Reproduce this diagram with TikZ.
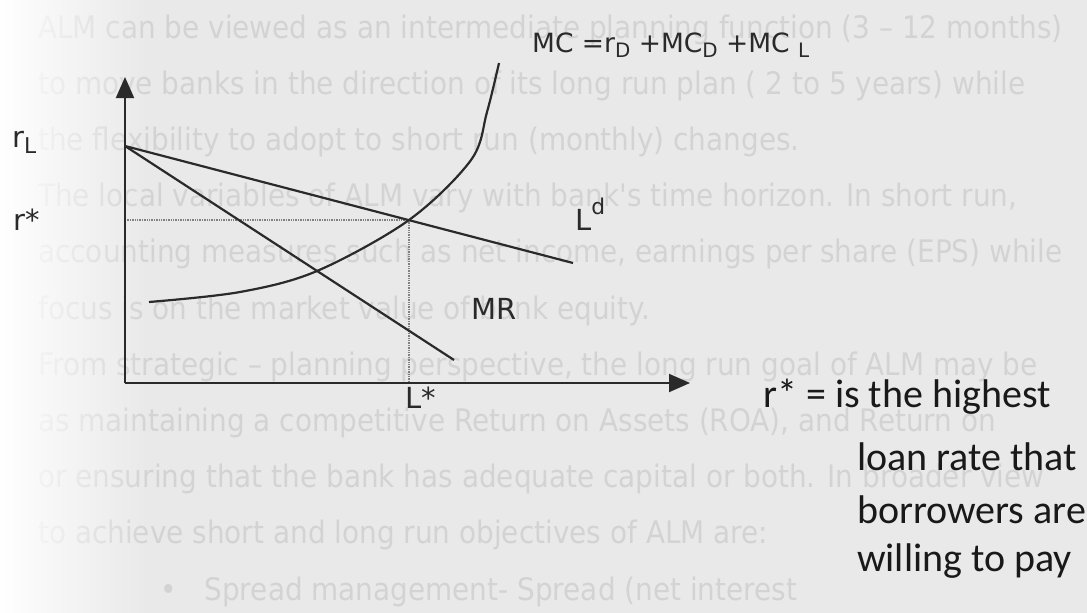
\documentclass[tikz,border=0pt]{standalone}
\usepackage{graphicx}
\usepackage{fontspec}
\setmainfont{Carlito}
\newfontfamily\lblfont{DejaVu Sans}
\usetikzlibrary{arrows.meta,fadings}
\definecolor{cpage}{HTML}{E9E9E9}
\definecolor{cghost}{HTML}{D3D3D3}
\definecolor{cink}{HTML}{2A2A2A}

\newcommand\lowidx[1]{\raisebox{-0.22em}{\scalebox{0.75}{#1}}}
\newcommand\highidx[1]{\raisebox{0.55em}{\scalebox{0.75}{#1}}}

\begin{document}
\begin{tikzpicture}[x=1pt, y=-1pt,
  ax/.style={draw=cink, line width=2pt, -{Triangle[length=21pt,width=18pt]}},
  crv/.style={draw=cink, line width=2.2pt},
  guide/.style={draw=gray, line width=1.4pt, densely dotted},
  lbl/.style={anchor=base west, inner sep=0pt, text=cink,
    font=\lblfont\fontsize{29}{29}\selectfont},
  note/.style={anchor=base west, inner sep=0pt, text=black!90,
    font=\fontsize{40}{40}\selectfont},
  ghost/.style={anchor=base west, inner sep=0pt, text=cghost,
    font=\lblfont\fontsize{31}{31}\selectfont}]

\useasboundingbox (0,0) rectangle (1087,613);
\fill[cpage] (0,0) rectangle (1087,613);

% show-through from the other side of the page
\foreach \k/\txt in {
  0/{ALM can be viewed as an intermediate planning function (3 – 12 months)},
  1/{to move banks in the direction of its long run plan ( 2 to  5  years) while},
  2/{the flexibility to adopt to short run (monthly) changes.},
  3/{The local variables of ALM vary with bank's time  horizon.   In short run,},
  4/{accounting measures such as net income, earnings per share (EPS) while},
  5/{focus is on the market value of bank equity.},
  6/{From strategic – planning perspective, the long run goal of ALM may be},
  7/{as maintaining a competitive Return on Assets (ROA), and Return on},
  8/{or ensuring that the bank has adequate capital or both.   In broader view},
  9/{to achieve short and long run objectives of ALM are:}}
  \node[ghost] (ghost\k) at (38,{38+56.2*\k}) {\scalebox{0.9}[1]{\txt}};
\node[ghost] (ghost10) at (160,600)
  {\scalebox{0.9}[1]{\textbullet\quad Spread management- Spread (net interest}};
\fill[white, path fading=east] (0,0) rectangle (150,613);

\coordinate (O) at (125,383);
\coordinate (ytop) at (125,77);
\coordinate (xend) at (690,383);
\coordinate (rL) at (125,146);
\coordinate (ldend) at (573,263);
\coordinate (mrend) at (454,360);
\coordinate (E) at (409,220);
\coordinate (rstar) at (125,220);
\coordinate (Lstar) at (409,383);

\draw[guide] (rstar) -- (E);
\draw[guide] (E) -- (Lstar);
\draw[ax] (O) -- (ytop);
\draw[ax] (O) -- (xend);

\draw[crv] (rL) -- (ldend);
\draw[crv] (rL) -- (mrend);
\draw[crv] plot[smooth, tension=0.55] coordinates
  {(149,302) (240,292) (317,271) (409,220) (471,160) (487,112) (499,63)};

\node[lbl, font=\lblfont\fontsize{26.5}{26.5}\selectfont] (mclbl) at (532,52)
  {MC =r\lowidx{D} +MC\lowidx{D} +MC \lowidx{L}};
\node[lbl] (rllbl) at (12,147) {r\lowidx{L}};
\node[lbl] (rslbl) at (13,230) {r*};
\node[lbl] (ldlbl) at (575,230) {L\highidx{d}};
\node[lbl] (mrlbl) at (471,319) {MR};
\node[lbl] (lslbl) at (405,408) {L*};

\node[note] (note1) at (763,407) {r* = is the highest};
\node[note] (note2) at (857,470) {loan rate that};
\node[note] (note3) at (857,523) {borrowers are};
\node[note] (note4) at (857,571) {willing to pay};
\end{tikzpicture}
\end{document}
